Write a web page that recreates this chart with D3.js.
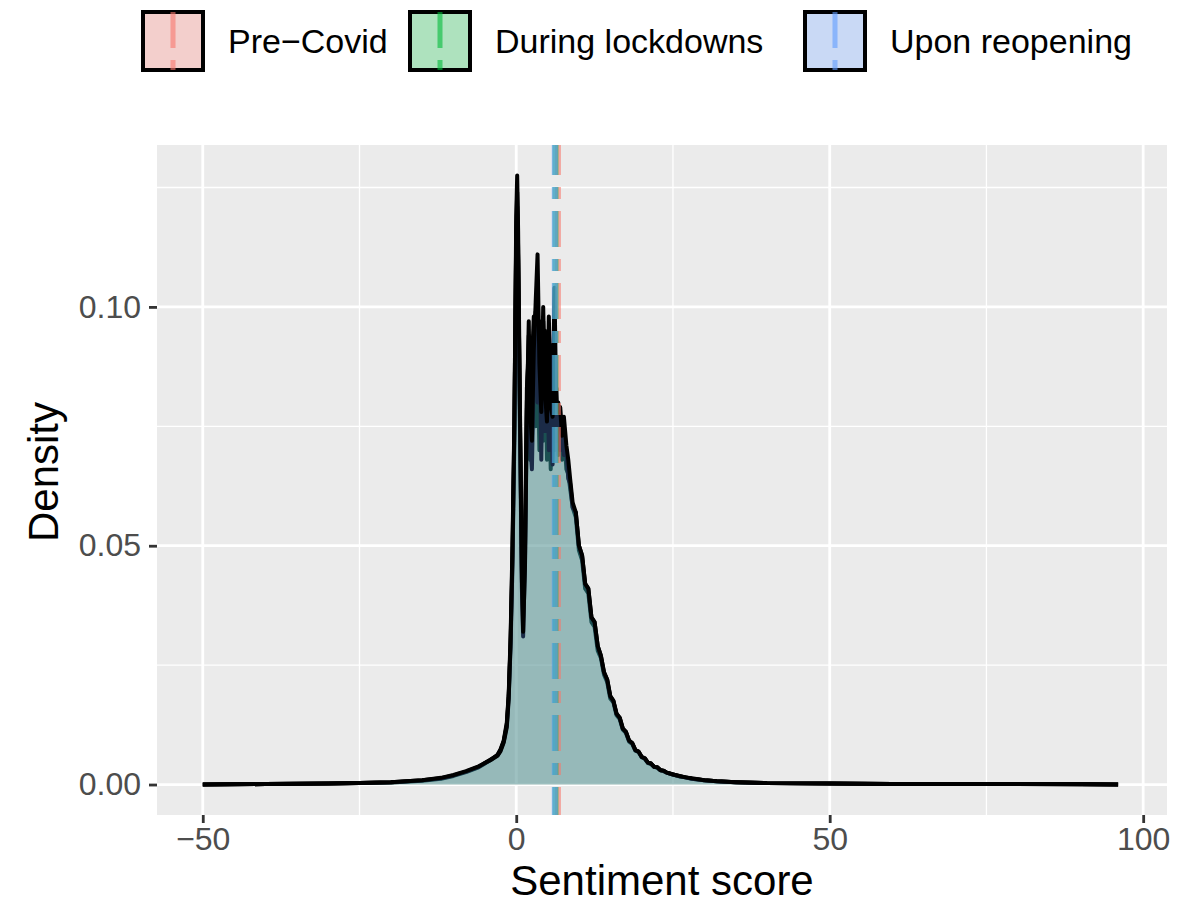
<!DOCTYPE html>
<html lang="en">
<head>
  <meta charset="UTF-8" />
  <title>Sentiment score density</title>
  <script src="https://d3js.org/d3.v7.min.js"></script>
  <style>
    html, body {
      margin: 0;
      padding: 0;
      background-color: white;
      overflow: hidden;
    }
    text {
      font-family: "Liberation Sans", Arial, sans-serif;
    }
  </style>
</head>
<body>
  <svg id="chart" width="1195" height="907"></svg>

  <script>
    // sentiment score grid shared by the three density curves
    const scores = [
      -50, -40, -30, -25, -20, -15, -12, -10, -8, -6,
      -5, -4, -3, -2.5, -2, -1.5, -1.2, -0.9, -0.6, -0.3,
      0, 0.15, 0.3, 0.6, 0.9, 1.1, 1.4, 1.7, 2.0, 2.2,
      2.5, 2.8, 3.1, 3.4, 3.7, 4.0, 4.3, 4.6, 4.9, 5.2,
      5.5, 5.8, 6.1, 6.4, 6.7, 7.0, 7.3, 7.6, 8.0, 8.3,
      8.6, 9.0, 9.5, 10, 10.5, 11, 11.5, 12, 12.5, 13,
      13.5, 14, 14.5, 15, 15.5, 16, 16.5, 17, 17.5, 18,
      18.5, 19, 19.5, 20, 20.5, 21, 21.5, 22, 22.5, 23,
      23.5, 24, 25, 26, 27, 28, 30, 32, 35, 40,
      50, 60, 70, 80, 90, 96
    ];

    const preCovid = [
      0, 0.0001, 0.0002, 0.0003, 0.0004, 0.0008, 0.0012, 0.0018, 0.0026, 0.0036,
      0.0044, 0.0052, 0.0062, 0.0074, 0.0092, 0.013, 0.019, 0.031, 0.050, 0.076,
      0.114, 0.121, 0.110, 0.076, 0.045, 0.035, 0.050, 0.083, 0.090, 0.068,
      0.088, 0.098, 0.075, 0.094, 0.070, 0.092, 0.072, 0.095, 0.068, 0.088,
      0.066, 0.090, 0.070, 0.083, 0.069, 0.079, 0.068, 0.074, 0.066, 0.065,
      0.062, 0.058, 0.056, 0.049, 0.047, 0.041, 0.040, 0.034, 0.033, 0.028,
      0.0265, 0.023, 0.0215, 0.018, 0.0172, 0.0145, 0.0137, 0.0115, 0.0108, 0.0090,
      0.0085, 0.0071, 0.0068, 0.0057, 0.0054, 0.0045, 0.0043, 0.0037, 0.0035, 0.0030,
      0.0028, 0.0025, 0.0021, 0.0017, 0.0015, 0.0012, 0.0009, 0.0007, 0.0005, 0.0003,
      0.0002, 0.0001, 0.0001, 0.0001, 0, 0
    ];

    const duringLockdowns = [
      0, 0.0001, 0.0002, 0.0003, 0.0005, 0.0009, 0.0013, 0.0019, 0.0027, 0.0037,
      0.0045, 0.0053, 0.0061, 0.0072, 0.0090, 0.0125, 0.0185, 0.029, 0.046, 0.072,
      0.116, 0.124, 0.112, 0.074, 0.041, 0.031, 0.047, 0.080, 0.094, 0.072,
      0.066, 0.086, 0.099, 0.080, 0.097, 0.068, 0.097, 0.074, 0.094, 0.070,
      0.092, 0.067, 0.097, 0.072, 0.080, 0.070, 0.077, 0.069, 0.070, 0.064,
      0.063, 0.058, 0.057, 0.050, 0.048, 0.042, 0.041, 0.035, 0.034, 0.029,
      0.027, 0.0235, 0.022, 0.0185, 0.0175, 0.0148, 0.0140, 0.0117, 0.0110, 0.0092,
      0.0087, 0.0072, 0.0069, 0.0058, 0.0055, 0.0046, 0.0044, 0.0037, 0.0036, 0.0030,
      0.0029, 0.0025, 0.0021, 0.0018, 0.0015, 0.0012, 0.0009, 0.0007, 0.0005, 0.0003,
      0.0002, 0.0001, 0.0001, 0.0001, 0.0001, 0
    ];

    const uponReopening = [
      0, 0.0001, 0.0002, 0.0003, 0.0005, 0.0009, 0.0014, 0.0020, 0.0028, 0.0038,
      0.0045, 0.0052, 0.0060, 0.0070, 0.0088, 0.012, 0.018, 0.030, 0.048, 0.075,
      0.119, 0.1275, 0.116, 0.078, 0.043, 0.032, 0.046, 0.078, 0.097, 0.078,
      0.072, 0.091, 0.101, 0.111, 0.088, 0.078, 0.100, 0.082, 0.076, 0.098,
      0.079, 0.077, 0.104, 0.078, 0.078, 0.079, 0.073, 0.077, 0.071, 0.068,
      0.064, 0.059, 0.057, 0.050, 0.048, 0.042, 0.041, 0.035, 0.034, 0.029,
      0.027, 0.0235, 0.022, 0.0185, 0.0175, 0.0148, 0.0140, 0.0117, 0.0110, 0.0092,
      0.0087, 0.0072, 0.0069, 0.0058, 0.0055, 0.0046, 0.0044, 0.0037, 0.0036, 0.0030,
      0.0029, 0.0025, 0.0021, 0.0018, 0.0015, 0.0013, 0.0009, 0.0007, 0.0005, 0.0003,
      0.0002, 0.0001, 0.0001, 0.0001, 0.0001, 0
    ];

    const periods = ["Pre\u2212Covid", "During lockdowns", "Upon reopening"];
    const periodColors = ["#F8766D", "#00BA38", "#619CFF"];
    const periodMeans = [6.65, 6.25, 6.15];

    const xTicks = [-50, 0, 50, 100];
    const xMinor = [-25, 25, 75];
    const yTicks = [0, 0.05, 0.10];
    const yMinor = [0.025, 0.075, 0.125];

    const series = [preCovid, duringLockdowns, uponReopening].map((vals, k) => ({
      name: periods[k],
      color: periodColors[k],
      mean: periodMeans[k],
      points: scores.map((s, i) => ({ x: s, y: vals[i] }))
    }));

    const panel = { left: 157, right: 1167, top: 145, bottom: 815 };
    const svg = d3.select("#chart");

    const x = d3.scaleLinear().domain([-57.3, 103.8]).range([panel.left, panel.right]);
    const y = d3.scaleLinear().domain([-0.00638, 0.1339]).range([panel.bottom, panel.top]);

    // panel background
    svg.append("rect")
      .attr("x", panel.left).attr("y", panel.top)
      .attr("width", panel.right - panel.left)
      .attr("height", panel.bottom - panel.top)
      .attr("fill", "#EBEBEB");

    const grid = svg.append("g");
    grid.selectAll("line.xminor").data(xMinor).enter().append("line")
      .attr("x1", d => x(d)).attr("x2", d => x(d))
      .attr("y1", panel.top).attr("y2", panel.bottom)
      .attr("stroke", "white").attr("stroke-width", 1.3);
    grid.selectAll("line.yminor").data(yMinor).enter().append("line")
      .attr("y1", d => y(d)).attr("y2", d => y(d))
      .attr("x1", panel.left).attr("x2", panel.right)
      .attr("stroke", "white").attr("stroke-width", 1.3);
    grid.selectAll("line.xmajor").data(xTicks).enter().append("line")
      .attr("x1", d => x(d)).attr("x2", d => x(d))
      .attr("y1", panel.top).attr("y2", panel.bottom)
      .attr("stroke", "white").attr("stroke-width", 2.8);
    grid.selectAll("line.ymajor").data(yTicks).enter().append("line")
      .attr("y1", d => y(d)).attr("y2", d => y(d))
      .attr("x1", panel.left).attr("x2", panel.right)
      .attr("stroke", "white").attr("stroke-width", 2.8);

    const area = d3.area().x(d => x(d.x)).y0(y(0)).y1(d => y(d.y));
    const line = d3.line().x(d => x(d.x)).y(d => y(d.y));

    const fillAlpha = 0.28;
    const lineAlpha = 0.6;
    const dash = "12,12,36,12";

    series.forEach(s => {
      svg.append("path")
        .attr("d", area(s.points))
        .attr("fill", s.color)
        .attr("fill-opacity", fillAlpha);
      svg.append("path")
        .attr("d", line(s.points))
        .attr("fill", "none")
        .attr("stroke", "black")
        .attr("stroke-width", 4)
        .attr("stroke-linejoin", "round");
    });

    series.forEach(s => {
      svg.append("line")
        .attr("x1", x(s.mean)).attr("x2", x(s.mean))
        .attr("y1", panel.top).attr("y2", panel.bottom)
        .attr("stroke", s.color)
        .attr("stroke-opacity", lineAlpha)
        .attr("stroke-width", 6)
        .attr("stroke-dasharray", dash)
        .attr("stroke-dashoffset", 30);
    });

    // axes
    const yAxis = svg.append("g")
      .attr("transform", `translate(${panel.left},0)`)
      .call(d3.axisLeft(y).tickValues(yTicks).tickFormat(d3.format(".2f")).tickSize(8).tickPadding(8));
    const xAxis = svg.append("g")
      .attr("transform", `translate(0,${panel.bottom})`)
      .call(d3.axisBottom(x).tickValues(xTicks).tickFormat(d => d < 0 ? "\u2212" + Math.abs(d) : d).tickSize(8).tickPadding(4));

    [yAxis, xAxis].forEach(ax => {
      ax.select(".domain").remove();
      ax.selectAll(".tick line").attr("stroke", "#333333").attr("stroke-width", 2.8);
      ax.selectAll(".tick text")
        .attr("fill", "#4D4D4D")
        .style("font-size", "32px")
        .style("font-family", "'Liberation Sans', Arial, sans-serif");
    });

    svg.append("text")
      .attr("x", (panel.left + panel.right) / 2)
      .attr("y", 895)
      .attr("text-anchor", "middle")
      .attr("fill", "black")
      .style("font-size", "42px")
      .text("Sentiment score");

    svg.append("text")
      .attr("transform", `translate(58,472) rotate(-90)`)
      .attr("text-anchor", "middle")
      .attr("fill", "black")
      .style("font-size", "42px")
      .text("Density");

    // legend
    const legendX = [143, 410, 805];
    const legend = svg.append("g");
    series.forEach((s, k) => {
      const g = legend.append("g").attr("transform", `translate(${legendX[k]},12)`);
      g.append("rect")
        .attr("width", 60).attr("height", 58)
        .attr("fill", "#F2F2F2");
      g.append("rect")
        .attr("width", 60).attr("height", 58)
        .attr("fill", s.color)
        .attr("fill-opacity", fillAlpha)
        .attr("stroke", "black")
        .attr("stroke-width", 4);
      g.append("line")
        .attr("x1", 30).attr("x2", 30)
        .attr("y1", 0).attr("y2", 58)
        .attr("stroke", s.color)
        .attr("stroke-opacity", lineAlpha)
        .attr("stroke-width", 5)
        .attr("stroke-dasharray", "36,12,12,12");
      g.append("text")
        .attr("x", 85).attr("y", 41)
        .attr("fill", "black")
        .style("font-size", "34px")
        .text(s.name);
    });
  </script>
</body>
</html>
